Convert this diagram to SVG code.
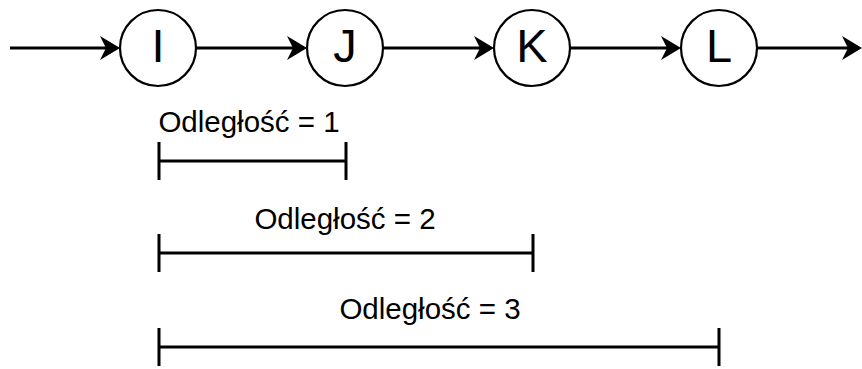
<svg xmlns="http://www.w3.org/2000/svg" width="862" height="369" viewBox="0 0 862 369">
<style>
.node circle{fill:#fff;stroke:#000;stroke-width:2.2}
.node text{font-family:"Liberation Sans",Arial,sans-serif;font-size:47px;text-anchor:middle;fill:#000}
.edge{stroke:#000;stroke-width:3;fill:none}
.bar{stroke:#000;stroke-width:3;fill:none}
.lbl{font-family:"Liberation Sans",Arial,sans-serif;font-size:29.5px;text-anchor:middle;fill:#000}
</style>
<defs>
<marker id="arr" markerUnits="userSpaceOnUse" viewBox="0 -13 21 26" markerWidth="21" markerHeight="26" refX="6" refY="0" orient="auto">
<path d="M0,-12 L20,0 L0,12 L6,0 Z" fill="#000"/>
</marker>
</defs>
<g id="connectors">
<line class="edge" x1="10" y1="48" x2="106" y2="48" marker-end="url(#arr)"/>
<line class="edge" x1="196" y1="48" x2="293" y2="48" marker-end="url(#arr)"/>
<line class="edge" x1="383" y1="48" x2="480" y2="48" marker-end="url(#arr)"/>
<line class="edge" x1="570" y1="48" x2="667" y2="48" marker-end="url(#arr)"/>
<line class="edge" x1="757" y1="48" x2="848" y2="48" marker-end="url(#arr)"/>
</g>
<g id="node-I" class="node"><circle cx="158" cy="48" r="38"/><text x="158" y="62">I</text></g>
<g id="node-J" class="node"><circle cx="345" cy="48" r="38"/><text x="345" y="62">J</text></g>
<g id="node-K" class="node"><circle cx="532" cy="48" r="38"/><text x="532" y="62">K</text></g>
<g id="node-L" class="node"><circle cx="719" cy="48" r="38"/><text x="719" y="62">L</text></g>
<g id="dist-1">
<text class="lbl" x="249" y="132">Odległość = 1</text>
<path class="bar" d="M159,142 V180 M159,161 H346 M346,142 V180"/>
</g>
<g id="dist-2">
<text class="lbl" x="345" y="229">Odległość = 2</text>
<path class="bar" d="M159,234 V272 M159,253 H533 M533,234 V272"/>
</g>
<g id="dist-3">
<text class="lbl" x="430" y="319">Odległość = 3</text>
<path class="bar" d="M159,328 V366 M159,347 H719 M719,328 V366"/>
</g>
</svg>
